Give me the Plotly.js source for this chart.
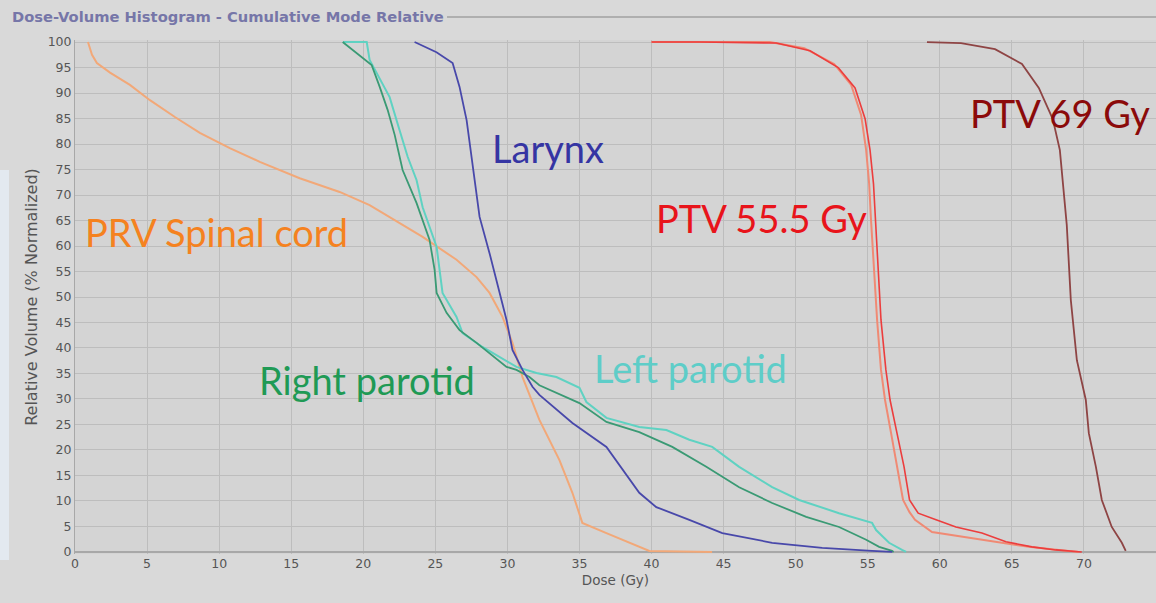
<!DOCTYPE html>
<html>
<head>
<meta charset="utf-8">
<script src="https://cdn.plot.ly/plotly-3.0.1.min.js"></script>
<style>
  html, body { margin: 0; padding: 0; background: #d9d9d9; }
  #chart { width: 1156px; height: 603px; }
</style>
</head>
<body>
<div id="chart"></div>
<script>
// ---- Data (dose in Gy, relative volume in %) ----
const spinalDose = [0.90, 1.18, 1.52, 2.43, 3.81, 5.20, 6.93, 8.66, 10.74, 12.82, 15.59, 18.36, 20.44, 21.83, 24.12, 26.47, 27.86, 28.76, 29.66, 30.35, 31.05, 32.22, 33.61, 34.51, 35.20, 36.87, 39.20, 39.85, 44.20];
const spinalVol  = [100, 97.5, 95.9, 94.0, 91.6, 88.6, 85.3, 82.2, 79.2, 76.5, 73.3, 70.6, 68.0, 65.7, 61.8, 57.3, 53.9, 50.8, 46.1, 41.0, 34.3, 25.9, 18.0, 11.6, 5.7, 3.7, 1.0, 0.2, 0];

const larynxDose = [23.56, 25.08, 26.20, 26.68, 27.17, 27.58, 28.07, 28.76, 29.24, 29.94, 30.35, 31.05, 31.74, 32.22, 34.51, 36.87, 39.15, 40.33, 42.62, 44.91, 48.37, 51.84, 55.30, 56.70];
const larynxVol  = [100, 98.0, 95.9, 91.2, 84.7, 76.3, 65.7, 58.6, 53.3, 45.5, 39.6, 35.7, 32.4, 30.8, 25.3, 20.6, 11.6, 8.8, 6.3, 3.7, 1.8, 0.8, 0.2, 0];

const rightParDose = [18.57, 19.75, 20.58, 21.14, 21.69, 22.18, 22.73, 23.70, 24.60, 24.95, 25.09, 25.78, 26.68, 27.86, 28.76, 29.94, 30.63, 31.53, 32.22, 35.00, 36.87, 39.15, 41.44, 43.80, 46.08, 48.37, 50.73, 53.01, 54.89, 55.79, 56.69, 56.80];
const rightParVol  = [100, 97.3, 95.5, 91.2, 86.7, 81.8, 74.9, 68.4, 61.2, 55.3, 50.8, 46.9, 43.5, 41.0, 39.0, 36.3, 35.7, 34.3, 32.7, 29.2, 25.5, 23.5, 20.6, 16.7, 12.7, 9.6, 6.9, 4.9, 2.4, 1.0, 0.2, 0];

const leftParDose = [18.60, 20.24, 20.44, 21.00, 21.83, 22.52, 23.08, 23.70, 24.12, 25.09, 25.29, 25.50, 26.47, 26.89, 28.27, 29.45, 30.63, 32.02, 33.40, 35.00, 35.48, 36.87, 39.15, 41.03, 42.62, 44.21, 46.08, 48.37, 50.24, 53.01, 55.30, 55.58, 56.48, 57.38, 57.66];
const leftParVol  = [100, 100, 96.5, 93.5, 89.2, 82.7, 77.5, 72.9, 67.6, 59.8, 55.3, 50.8, 46.1, 42.9, 40.2, 38.2, 36.3, 35.1, 34.3, 32.2, 29.4, 26.3, 24.5, 23.9, 22.0, 20.6, 16.7, 12.7, 10.2, 7.6, 5.7, 4.3, 1.8, 0.4, 0];

const ptv55aDose = [40.0, 43.3, 48.65, 51.0, 52.95, 54.12, 54.82, 55.16, 55.40, 55.52, 55.68, 55.92, 56.26, 56.55, 57.03, 57.52, 57.90, 58.50, 59.74, 61.12, 62.92, 64.59, 66.39, 68.05, 69.85];
const ptv55aVol  = [100, 100, 99.8, 98.3, 95.0, 91.0, 84.9, 78.8, 72.2, 65.5, 57.3, 45.5, 35.7, 29.8, 23.3, 16.7, 10.2, 7.6, 6.3, 4.9, 3.7, 2.0, 1.0, 0.4, 0];

const ptv55bDose = [40.0, 48.2, 50.6, 52.67, 53.85, 54.54, 54.89, 55.10, 55.22, 55.40, 55.65, 55.92, 56.20, 56.62, 57.03, 57.45, 57.90, 58.28, 59.46, 61.82, 64.10, 66.18, 68.26, 69.65];
const ptv55bVol  = [100, 100, 98.8, 95.7, 91.6, 85.7, 78.8, 72.2, 65.5, 57.3, 45.5, 35.7, 29.8, 23.3, 16.7, 10.2, 7.8, 6.3, 3.9, 2.9, 2.0, 1.0, 0.4, 0];

const ptv69Dose = [59.11, 61.47, 63.83, 65.70, 66.87, 67.84, 68.33, 68.54, 68.81, 69.09, 69.51, 70.13, 70.34, 70.83, 71.24, 71.93, 72.63, 72.90];
const ptv69Vol  = [100, 99.8, 98.6, 95.7, 91.0, 84.9, 78.8, 72.2, 64.1, 49.4, 37.6, 29.8, 23.3, 16.7, 10.2, 4.9, 1.8, 0.2];

const labelTexts   = ["PRV Spinal cord", "Larynx", "PTV 55.5 Gy", "PTV 69 Gy", "Right parotid", "Left parotid"];
const labelX       = [0.55, 28.8, 40.2, 74.7, 12.6, 35.85];
const labelY       = [62.7, 79.2, 65.5, 86.1, 33.7, 36.1];
const labelAnchors = ["left", "left", "left", "right", "left", "left"];
const labelColors  = ["#f5821f", "#3535a3", "#e8141b", "#8b0a0a", "#1f9a55", "#5ecdc8"];

const xTickVals = [0,5,10,15,20,25,30,35,40,45,50,55,60,65,70,75];
const yTickVals = [0,5,10,15,20,25,30,35,40,45,50,55,60,65,70,75,80,85,90,95,100];

// ---- Traces ----
function line(x, y, color, width) {
  return { x: x, y: y, type: 'scatter', mode: 'lines',
           line: { color: color, width: width }, hoverinfo: 'skip', showlegend: false };
}
const traces = [
  line(spinalDose, spinalVol, '#f2a878', 2),
  line(leftParDose, leftParVol, '#5fd2c2', 2),
  line(rightParDose, rightParVol, '#3a9a74', 1.8),
  line(larynxDose, larynxVol, '#4848aa', 1.8),
  line(ptv55bDose, ptv55bVol, '#f08a74', 2),
  line(ptv55aDose, ptv55aVol, '#ec3d3d', 1.6),
  line(ptv69Dose, ptv69Vol, '#8e4444', 1.8)
];

const annotations = labelTexts.map((t, i) => ({
  x: labelX[i], y: labelY[i], xref: 'x', yref: 'y',
  text: t, showarrow: false, xanchor: labelAnchors[i], yanchor: 'middle',
  font: { family: 'Lato, "Open Sans", sans-serif', size: 38, color: labelColors[i] }
}));

const axisFont = '"DejaVu Sans", Verdana, sans-serif';

const layout = {
  width: 1156, height: 603,
  margin: { l: 75, r: 0, t: 40, b: 49 },
  paper_bgcolor: '#d9d9d9',
  plot_bgcolor: '#d4d4d4',
  title: {
    text: 'Dose-Volume Histogram - Cumulative Mode Relative',
    xref: 'container', yref: 'container', x: 12/1156, xanchor: 'left',
    y: 1 - 17/603, yanchor: 'middle',
    font: { family: axisFont, size: 14.7, color: '#7676a8', weight: 'bold' }
  },
  xaxis: {
    range: [0, 75], tickvals: xTickVals, ticktext: xTickVals.map(String),
    showgrid: true, gridcolor: '#bdbdbd', gridwidth: 1,
    zeroline: false, showline: false, ticks: '',
    tickfont: { family: axisFont, size: 12.5, color: '#555555' },
    title: { text: 'Dose (Gy)', standoff: 6,
             font: { family: axisFont, size: 13.5, color: '#555555' } }
  },
  yaxis: {
    range: [-0.4, 100.4], tickvals: yTickVals, ticktext: yTickVals.map(String),
    showgrid: true, gridcolor: '#bdbdbd', gridwidth: 1,
    zeroline: true, zerolinecolor: '#a8a8a8', zerolinewidth: 2,
    showline: true, linecolor: '#a8a8a8', linewidth: 1, ticks: '',
    tickfont: { family: axisFont, size: 12.5, color: '#555555' },
    title: { text: 'Relative Volume (% Normalized)', standoff: 6,
             font: { family: axisFont, size: 16, color: '#555555' } }
  },
  shapes: [
    { type: 'line', xref: 'paper', yref: 'paper', x0: (447-75)/1081, x1: 1.01,
      y0: (554-17)/514, y1: (554-17)/514, line: { color: '#a0a0a0', width: 1.5 } },
    { type: 'rect', xref: 'paper', yref: 'paper', x0: -75/1081, x1: -66/1081,
      y0: (554-560)/514, y1: (554-170)/514, fillcolor: '#e3e9f0', line: { width: 0 }, layer: 'below' }
  ],
  annotations: annotations
};

Plotly.newPlot('chart', traces, layout, { staticPlot: true, displayModeBar: false });
</script>
</body>
</html>
